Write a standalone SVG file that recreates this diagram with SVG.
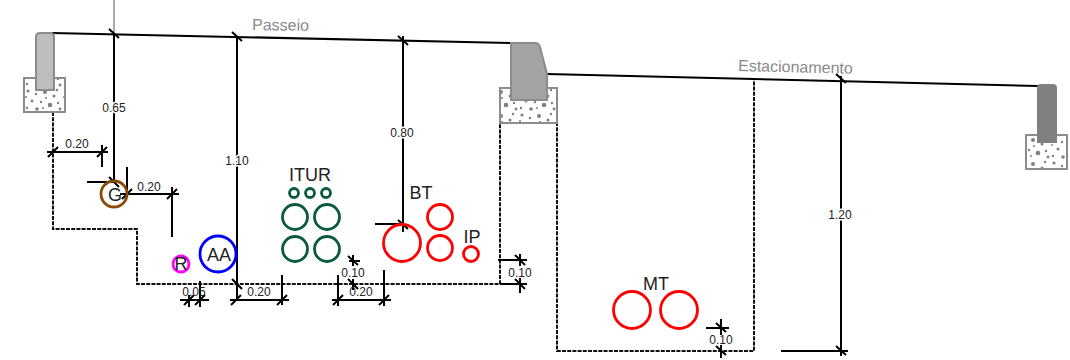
<svg xmlns="http://www.w3.org/2000/svg" width="1070" height="360" viewBox="0 0 1070 360">
<style>
text{font-family:"Liberation Sans",Arial,sans-serif;fill:#222}
.d{font-size:12px;text-anchor:middle}
.h{paint-order:stroke;stroke:#fff;stroke-width:3}
.l{font-size:18px;text-anchor:middle}
.g{font-size:16px;fill:#8a8a8a}
.c{fill:none;stroke-width:2.8}
.conc{fill:url(#sp);stroke:#8c8c8c;stroke-width:2}
.dash{fill:none;stroke:#111;stroke-width:2;stroke-dasharray:4 1.2}
.ln{fill:none;stroke:#000;stroke-width:2}
.sf{fill:none;stroke:#000;stroke-width:2.1}
.t{fill:none;stroke:#000;stroke-width:2}
.red{stroke:#f00}.grn{stroke:#0b5a40}
</style>
<defs>
<pattern id="sp" width="38" height="24" patternUnits="userSpaceOnUse" x="24" y="88">
<rect width="38" height="24" fill="#fff"/>
<g fill="#7f7f7f"><circle cx="4" cy="3" r="1.6"/><circle cx="12" cy="6" r="1.2"/><circle cx="21" cy="4" r="2"/><circle cx="30" cy="8" r="1.5"/><circle cx="8" cy="13" r="1.5"/><circle cx="17" cy="14" r="1.2"/><circle cx="26" cy="17" r="2.3"/><circle cx="34" cy="15" r="1.2"/><circle cx="3" cy="20" r="1.2"/><circle cx="13" cy="21" r="1.8"/><circle cx="33" cy="2" r="1.2"/><circle cx="22" cy="10" r="1"/><circle cx="36" cy="21" r="1.4"/><circle cx="19" cy="20" r="1"/><circle cx="2" cy="9" r="1"/></g>
</pattern>
</defs>
<g id="connectors">
<path class="sf" d="M52 33L511 43M547 74L1038 86"/>
<path d="M114 0V33" fill="none" stroke="#aaa" stroke-width="2"/>
<path class="dash" d="M53 112V229H137V284H500V122M557 122V351H754V80"/>
<path class="ln" d="M114 33V182M87 182H114M237 36V300M403 36V232M375 224H403M841 76V356M781 351H848
M47 152H108M102 145V167M127 167V190M120 194H179M172 187V237
M180 300H209M189 295V307M200 281V307M230 300H289M282 275V305
M332 300H391M338 275V306M384 270V306M353 255V266M349 261H360M353 279V290
M498 260H527M520 254V266M500 284H527M520 278V293M706 328H729M721 319V335M721 345V358"/>
<path class="t" d="M109 29L119 38M232 32L242 41M398 36L408 45M836 74L846 83M836 346L846 355M398 220L408 229M109 177L119 187M232 279L242 289M348 279L358 289M515 279L525 289M515 255L525 265M348 256L358 265M716 323L726 332M716 346L726 355
M48 157L58 147M97 157L107 147M122 199L132 189M167 199L177 189M184 305L194 295M195 305L205 295M231 305L241 295M277 305L287 295M333 305L343 295M379 305L389 295"/>
<text class="d h" x="114" y="112">0.65</text>
<text class="d" x="77" y="148">0.20</text>
<text class="d" x="149" y="191">0.20</text>
<text class="d h" x="237" y="165">1.10</text>
<text class="d h" x="402" y="137">0.80</text>
<text class="d h" x="840" y="219">1.20</text>
<text class="d" x="194" y="296">0.05</text>
<text class="d" x="259" y="296">0.20</text>
<text class="d" x="361" y="296">0.20</text>
<text class="d" x="353" y="277">0.10</text>
<text class="d" x="520" y="277">0.10</text>
<text class="d" x="721" y="344">0.10</text>
</g>
<g id="curb-left">
<rect class="conc" x="24" y="78" width="41" height="34"/>
<path d="M36 90V37Q36 33 40 33H50Q54 33 54 37V90Z" fill="#bdbdbd" stroke="#8c8c8c" stroke-width="2"/>
</g>
<g id="curb-center">
<rect class="conc" x="500" y="88" width="57" height="35"/>
<path d="M511 100V43H535Q539 43 540 47L547 74V100Z" fill="#a3a3a3" stroke="#8c8c8c" stroke-width="2"/>
</g>
<g id="curb-right">
<rect class="conc" x="1026" y="135" width="41" height="34"/>
<path d="M1037 143V88Q1037 84 1041 84H1053Q1057 84 1057 88V143Z" fill="#808080"/>
</g>
<g id="label-passeio"><text class="g" x="252" y="30" transform="rotate(1 252 30)">Passeio</text></g>
<g id="label-estacionamento"><text class="g" x="738" y="71" transform="rotate(1.4 738 71)">Estacionamento</text></g>
<g id="node-G"><circle class="c" cx="114" cy="194" r="13" stroke="#8a4b08"/><text class="l" x="115" y="201">G</text></g>
<g id="node-R"><circle class="c" cx="181" cy="264" r="8" stroke="#f0f"/><text class="l" x="181" y="270">R</text></g>
<g id="node-AA"><circle class="c" cx="218" cy="254" r="18" stroke="#00f"/><text class="l" x="219" y="261">AA</text></g>
<g id="node-ITUR">
<text class="l" x="310" y="181">ITUR</text>
<g class="grn"><circle class="c" cx="294" cy="193" r="4.5"/><circle class="c" cx="310" cy="193" r="4.5"/><circle class="c" cx="326" cy="193" r="4.5"/><circle class="c" cx="295" cy="217" r="12.5"/><circle class="c" cx="327" cy="217" r="12.5"/><circle class="c" cx="295" cy="249" r="12.5"/><circle class="c" cx="327" cy="249" r="12.5"/></g>
</g>
<g id="node-BT">
<text class="l" x="421" y="199">BT</text>
<g class="red"><circle class="c" cx="402" cy="243" r="18.5"/><circle class="c" cx="440" cy="217" r="12.5"/><circle class="c" cx="440" cy="248" r="12.5"/></g>
</g>
<g id="node-IP"><text class="l" x="472" y="243">IP</text><circle class="c red" cx="471" cy="254" r="7.5"/></g>
<g id="node-MT">
<text class="l" x="656" y="290">MT</text>
<g class="red"><circle class="c" cx="632" cy="310" r="18.5"/><circle class="c" cx="679" cy="310" r="18.5"/></g>
</g>
</svg>
